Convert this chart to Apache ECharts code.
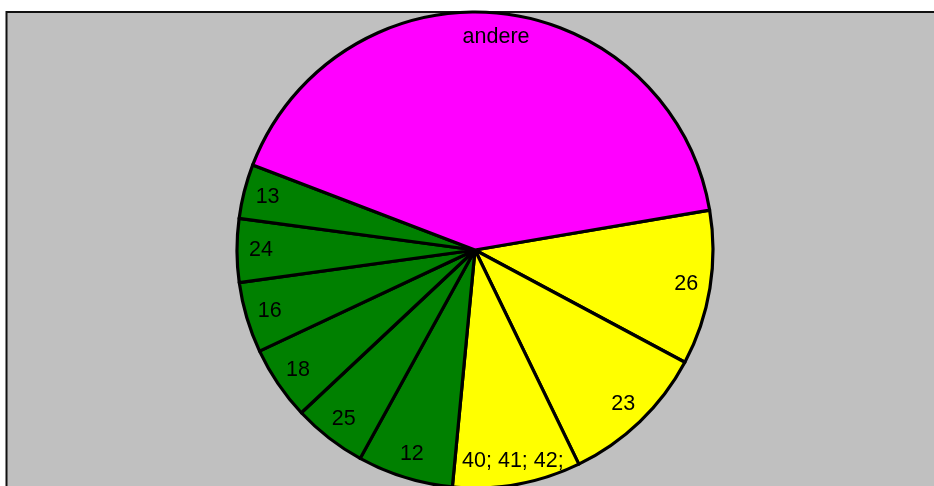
<!DOCTYPE html>
<html><head><meta charset="utf-8">
<script src="https://cdn.jsdelivr.net/npm/echarts@6/dist/echarts.min.js"></script>
<style>html,body{margin:0;padding:0;background:#fff}#c{width:934px;height:486px}</style>
</head><body><div id="c"></div>
<script>
// Data (share of the whole, clockwise from the "26" slice)
const categories = ['26', '23', '40; 41; 42;', '12', '25', '18', '16', '24', '13', 'andere'];
const values = [10.5, 10.0, 8.7, 6.5, 5.0, 5.0, 4.8, 4.3, 3.7, 41.5];
const sliceColors = ['#FFFF00', '#FFFF00', '#FFFF00', '#008000', '#008000', '#008000', '#008000', '#008000', '#008000', '#FF00FF'];

const chart = echarts.init(document.getElementById('c'), null, {renderer: 'canvas'});
const CENTER = [475, 250];
const R = 238;
const START = 9.66;

const pieData = categories.map((c, i) => ({
  name: c, value: values[i],
  itemStyle: {color: sliceColors[i]}
}));
const labelData = categories.map((c, i) => ({name: c, value: values[i]}));

chart.setOption({
  backgroundColor: '#ffffff',
  animation: false,
  graphic: [{
    type: 'rect', z: -10, silent: true,
    shape: {x: 6.5, y: 12, width: 1000, height: 1000},
    style: {fill: '#C0C0C0', stroke: '#111', lineWidth: 2}
  }],
  series: [{
    type: 'pie',
    center: CENTER,
    radius: [0, R],
    startAngle: START,
    clockwise: true,
    avoidLabelOverlap: false,
    label: {show: false},
    labelLine: {show: false},
    emphasis: {disabled: true},
    itemStyle: {borderColor: '#000', borderWidth: 3.2, borderJoin: 'round'},
    data: pieData,
    silent: true
  }, {
    type: 'pie',
    center: CENTER,
    radius: [184, R],
    startAngle: START,
    clockwise: true,
    avoidLabelOverlap: false,
    emphasis: {disabled: true},
    itemStyle: {color: 'rgba(0,0,0,0)', borderWidth: 0},
    label: {
      show: true, position: 'inside', formatter: '{b}',
      color: '#000', fontSize: 21.5, fontFamily: 'Liberation Sans, Arial, sans-serif',
      rotate: 0
    },
    labelLine: {show: false},
    data: labelData,
    silent: true
  }]
});
</script>
</body></html>
